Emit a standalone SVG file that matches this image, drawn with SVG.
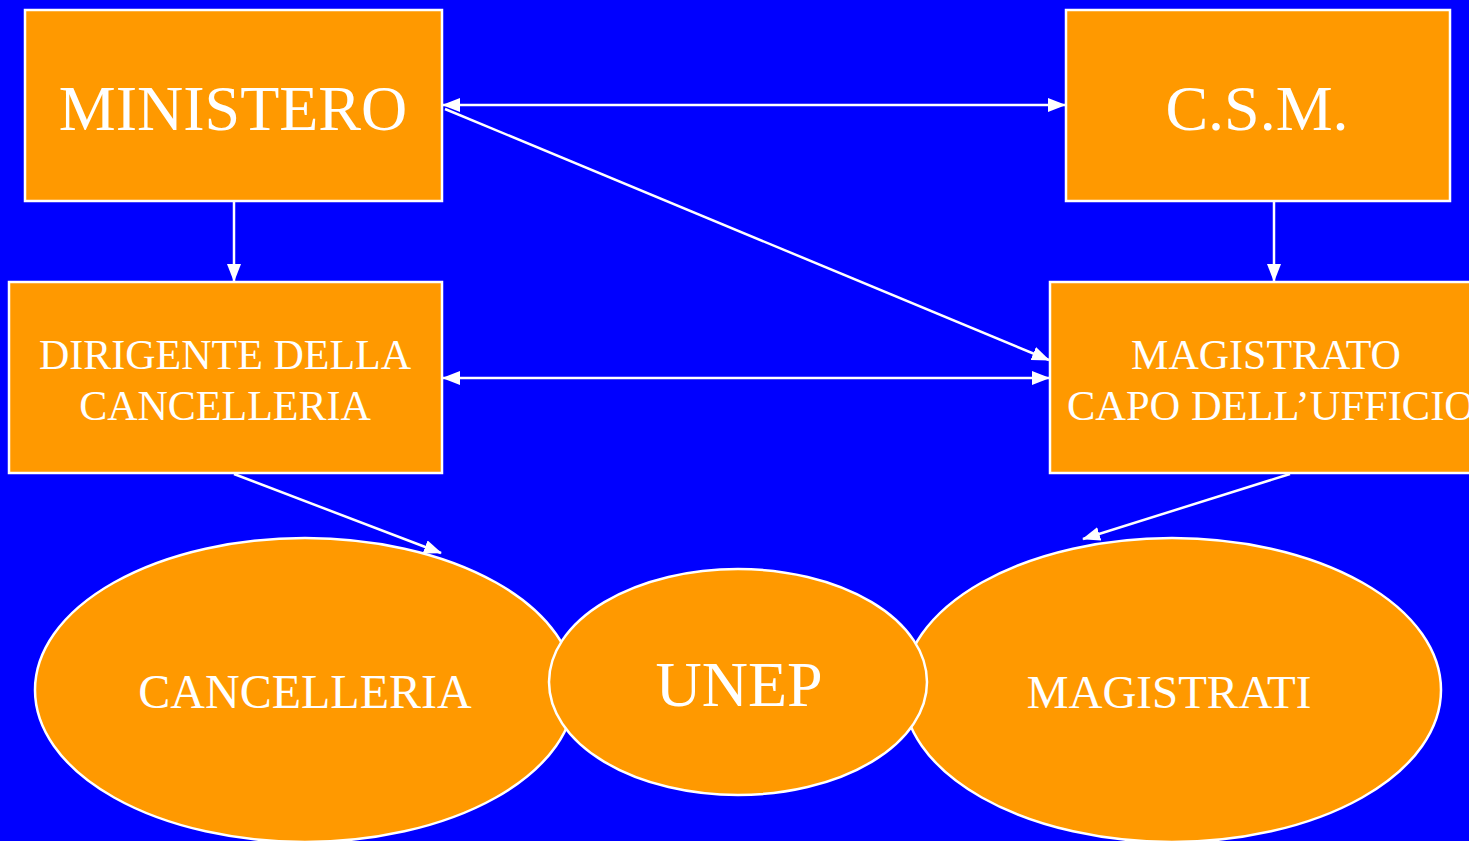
<svg xmlns="http://www.w3.org/2000/svg" width="1469" height="841" viewBox="0 0 1469 841">
<style>
.box{fill:#FF9900;stroke:#FFFFFF;stroke-width:2.5}
.t{fill:#FFFFFF;font-family:"Liberation Serif","Times New Roman",serif;text-anchor:middle}
.c{stroke:#FFFFFF;stroke-width:2.5;fill:none}
</style>
<defs>
<marker id="ah" viewBox="0 0 18 14" refX="17" refY="7" markerWidth="18" markerHeight="14" markerUnits="userSpaceOnUse" orient="auto-start-reverse">
<path d="M0,0 L18,7 L0,14 Z" fill="#FFFFFF"/>
</marker>
</defs>
<rect width="1469" height="841" fill="#0000FF"/>
<g id="ministero"><rect class="box" x="25" y="10" width="417" height="191"/><text class="t" x="233" y="130" font-size="64">MINISTERO</text></g>
<g id="csm"><rect class="box" x="1066" y="10" width="384" height="191"/><text class="t" x="1257" y="130" font-size="64">C.S.M.</text></g>
<g id="dirigente"><rect class="box" x="9" y="282" width="433" height="191"/><text class="t" x="225" y="369" font-size="42">DIRIGENTE DELLA</text><text class="t" x="225" y="420" font-size="42">CANCELLERIA</text></g>
<g id="magistrato"><rect class="box" x="1050" y="282" width="433" height="191"/><text class="t" x="1266" y="369" font-size="42">MAGISTRATO</text><text class="t" x="1271" y="420" font-size="42.5">CAPO DELL’UFFICIO</text></g>
<g id="cancelleria"><ellipse class="box" cx="305" cy="690" rx="270" ry="152"/><text class="t" x="305" y="708" font-size="48">CANCELLERIA</text></g>
<g id="magistrati"><ellipse class="box" cx="1172" cy="690" rx="269" ry="152"/><text class="t" x="1169" y="708" font-size="47">MAGISTRATI</text></g>
<g id="unep"><ellipse class="box" cx="738" cy="682" rx="189" ry="113"/><text class="t" x="739" y="706" font-size="64">UNEP</text></g>
<g id="connectors">
<line class="c" x1="443" y1="105" x2="1065" y2="105" marker-start="url(#ah)" marker-end="url(#ah)"/>
<line class="c" x1="445" y1="109" x2="1049" y2="360" marker-end="url(#ah)"/>
<line class="c" x1="234" y1="201" x2="234" y2="281" marker-end="url(#ah)"/>
<line class="c" x1="1274" y1="201" x2="1274" y2="281" marker-end="url(#ah)"/>
<line class="c" x1="443" y1="378" x2="1049" y2="378" marker-start="url(#ah)" marker-end="url(#ah)"/>
<line class="c" x1="234" y1="474" x2="441" y2="553" marker-end="url(#ah)"/>
<line class="c" x1="1290" y1="474" x2="1083" y2="539" marker-end="url(#ah)"/>
</g>
</svg>
